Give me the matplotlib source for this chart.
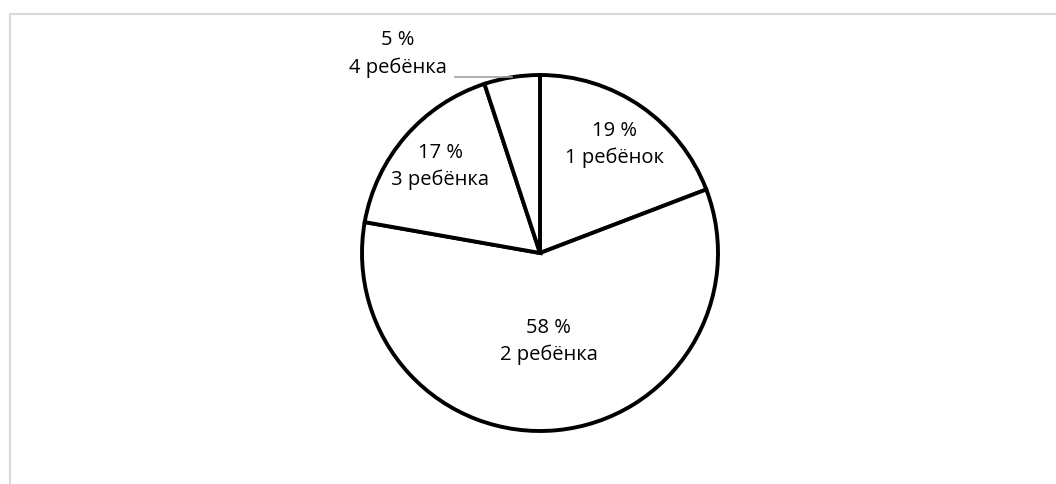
import numpy as np
import matplotlib.pyplot as plt
from matplotlib.lines import Line2D

kategorii = ["1 ребёнок", "2 ребёнка", "3 ребёнка", "4 ребёнка"]
procenty = [19, 58, 17, 5]

plt.rcParams['font.family'] = ['Open Sans', 'DejaVu Sans']

W, H = 1056, 484
fig = plt.figure(figsize=(W / 100, H / 100), dpi=100)

# серая рамка (видны только верх и левый край)
fig.add_artist(Line2D([10 / W, 10 / W, 1.01], [-0.01, 1 - 14 / H, 1 - 14 / H],
                      transform=fig.transFigure, color='#d9d9d9', lw=1.5))

cx, cy, r = 540, 253, 178
ax = fig.add_axes([(cx - r) / W, (H - cy - r) / H, 2 * r / W, 2 * r / H])

wedges, _ = ax.pie(procenty, startangle=90, counterclock=False,
                   colors=['white'] * len(procenty),
                   wedgeprops=dict(edgecolor='black', linewidth=2.8))
ax.set_xlim(-1, 1)
ax.set_ylim(-1, 1)
ax.axis('off')

fs = 14.5
rasst = [0.74, 0.5, 0.74]
for i, w in enumerate(wedges):
    mid = np.deg2rad((w.theta1 + w.theta2) / 2)
    txt = f"{procenty[i]} %\n{kategorii[i]}"
    if i < 3:
        ax.text(rasst[i] * np.cos(mid), rasst[i] * np.sin(mid), txt,
                ha='center', va='center', fontsize=fs, linespacing=1.45)
    else:
        ex, ey = np.cos(mid), np.sin(mid)
        ax.plot([ex, -0.478], [ey, ey], color='#a0a0a0', lw=1.2, clip_on=False)
        ax.text(-0.80, 1.118, txt, ha='center', va='center', fontsize=fs,
                linespacing=1.45)

fig.savefig('out.png', dpi=100)
